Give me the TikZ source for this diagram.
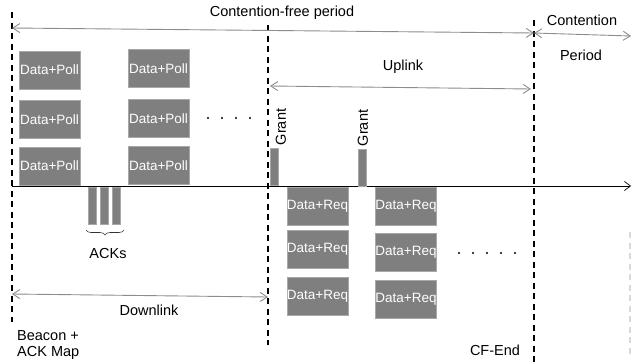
\documentclass[tikz,border=0pt]{standalone}
\usepackage{fontspec}
\setmainfont{Liberation Sans}
\usepackage{xcolor}
\usepackage{tikz}
\usetikzlibrary{arrows.meta,decorations.pathreplacing}
\definecolor{slot}{HTML}{7F7F7F}
\definecolor{slotedge}{HTML}{A8A8A8}
\definecolor{span}{HTML}{8C8C8C}
\definecolor{ghost}{HTML}{D9D9D9}
\tikzset{
  bound/.style={draw=black, line width=1.4pt, dash pattern=on 6pt off 4.5pt},
  faint/.style={draw=ghost, line width=1.4pt, dash pattern=on 6pt off 4.5pt},
  axis/.style={draw=black, line width=0.7pt, -{Straight Barb[length=6pt,width=9pt,line width=0.7pt]}},
  span/.style={draw=span, line width=0.9pt,
    {Straight Barb[length=7pt,width=9pt,line width=0.9pt]}-{Straight Barb[length=7pt,width=9pt,line width=0.9pt]}},
  slotbox/.style={fill=slot, draw=slotedge, line width=0.7pt, inner sep=0pt,
    minimum width=61pt, minimum height=38pt, text=white, font=\fontsize{13.5}{15}\selectfont},
  bar/.style={fill=slot, draw=slotedge, line width=0.6pt, inner sep=0pt,
    minimum width=8pt, minimum height=37pt},
  lab/.style={inner sep=0pt, font=\fontsize{14.5}{16.5}\selectfont},
  dot/.style={fill=black},
}

\begin{document}
\begin{tikzpicture}[x=1pt,y=-1pt]
  \useasboundingbox (0,0) rectangle (631,362);

  % period boundaries
  \coordinate (B0t) at (12,12);   \coordinate (B0b) at (12,322);
  \coordinate (B1t) at (268,25);  \coordinate (B1b) at (268,345);
  \coordinate (B2t) at (534,20);  \coordinate (B2b) at (534,362);
  \coordinate (B3t) at (630,232); \coordinate (B3b) at (630,356);
  \draw[bound] (B0t) -- (B0b);
  \draw[bound] (B1t) -- (B1b);
  \draw[bound] (B2t) -- (B2b);
  \draw[faint] (B3t) -- (B3b);

  % time axis
  \coordinate (T0) at (12,186);
  \coordinate (T1) at (631,186);
  \draw[axis] (T0) -- (T1);

  % spans
  \coordinate (cfL) at (12,28);   \coordinate (cfR) at (534,33);
  \coordinate (cpR) at (631,36);
  \coordinate (upL) at (270,86);  \coordinate (upR) at (531,89);
  \coordinate (dnL) at (12,294);  \coordinate (dnR) at (268,297);
  \draw[span] (cfL) -- (cfR);
  \draw[span] (cfR) -- (cpR);
  \draw[span] (upL) -- (upR);
  \draw[span] (dnL) -- (dnR);

  \node[lab] (cfp) at (282,13) {Contention-free period};
  \node[lab] (cp1) at (582,20) {Contention};
  \node[lab] (cp2) at (581,55) {Period};
  \node[lab] (up) at (403,67) {Uplink};
  \node[lab] (down) at (149,310) {Downlink};

  % downlink frames
  \foreach \n/\x/\y in {p1/49.5/70, p2/49.5/119.5, p3/49.5/166,
                        p4/158.5/68.5, p5/158.5/118.5, p6/158.5/165.5}{
    \node[slotbox] (\n) at (\x,\y) {Data+Poll};
  }
  \foreach \i in {0,...,3}{
    \fill[dot] (208+14*\i,118) circle (1.1pt);
  }

  % grants
  \node[bar] (g1) at (274,167) {};
  \node[bar] (g2) at (362,167.5) {};
  \node[lab, rotate=90] (g1lab) at (281,127) {Grant};
  \node[lab, rotate=90] (g2lab) at (363,128) {Grant};

  % uplink frames
  \foreach \n/\x/\y in {r1/317.5/206, r2/317.5/249.5, r3/317.5/296.5,
                        r4/406/206.5, r5/406/252.5, r6/406/299}{
    \node[slotbox] (\n) at (\x,\y) {Data+Req};
  }
  \foreach \i in {0,...,4}{
    \fill[dot] (459+14*\i,253) circle (1.1pt);
  }

  % acks
  \foreach \n/\x in {a1/92, a2/104, a3/116}{
    \node[bar] (\n) at (\x,205.5) {};
  }
  \coordinate (brL) at (86,230);
  \coordinate (brR) at (124,230);
  \draw[draw=black!80, line width=0.6pt, decorate,
        decoration={brace, mirror, amplitude=5pt}] (brL) -- (brR);
  \node[lab] (acks) at (108,254) {ACKs};

  \node[lab, align=left, anchor=west] (beacon) at (17,345) {Beacon +\\ACK Map};
  \node[lab] (cfend) at (495,350) {CF-End};
\end{tikzpicture}
\end{document}
